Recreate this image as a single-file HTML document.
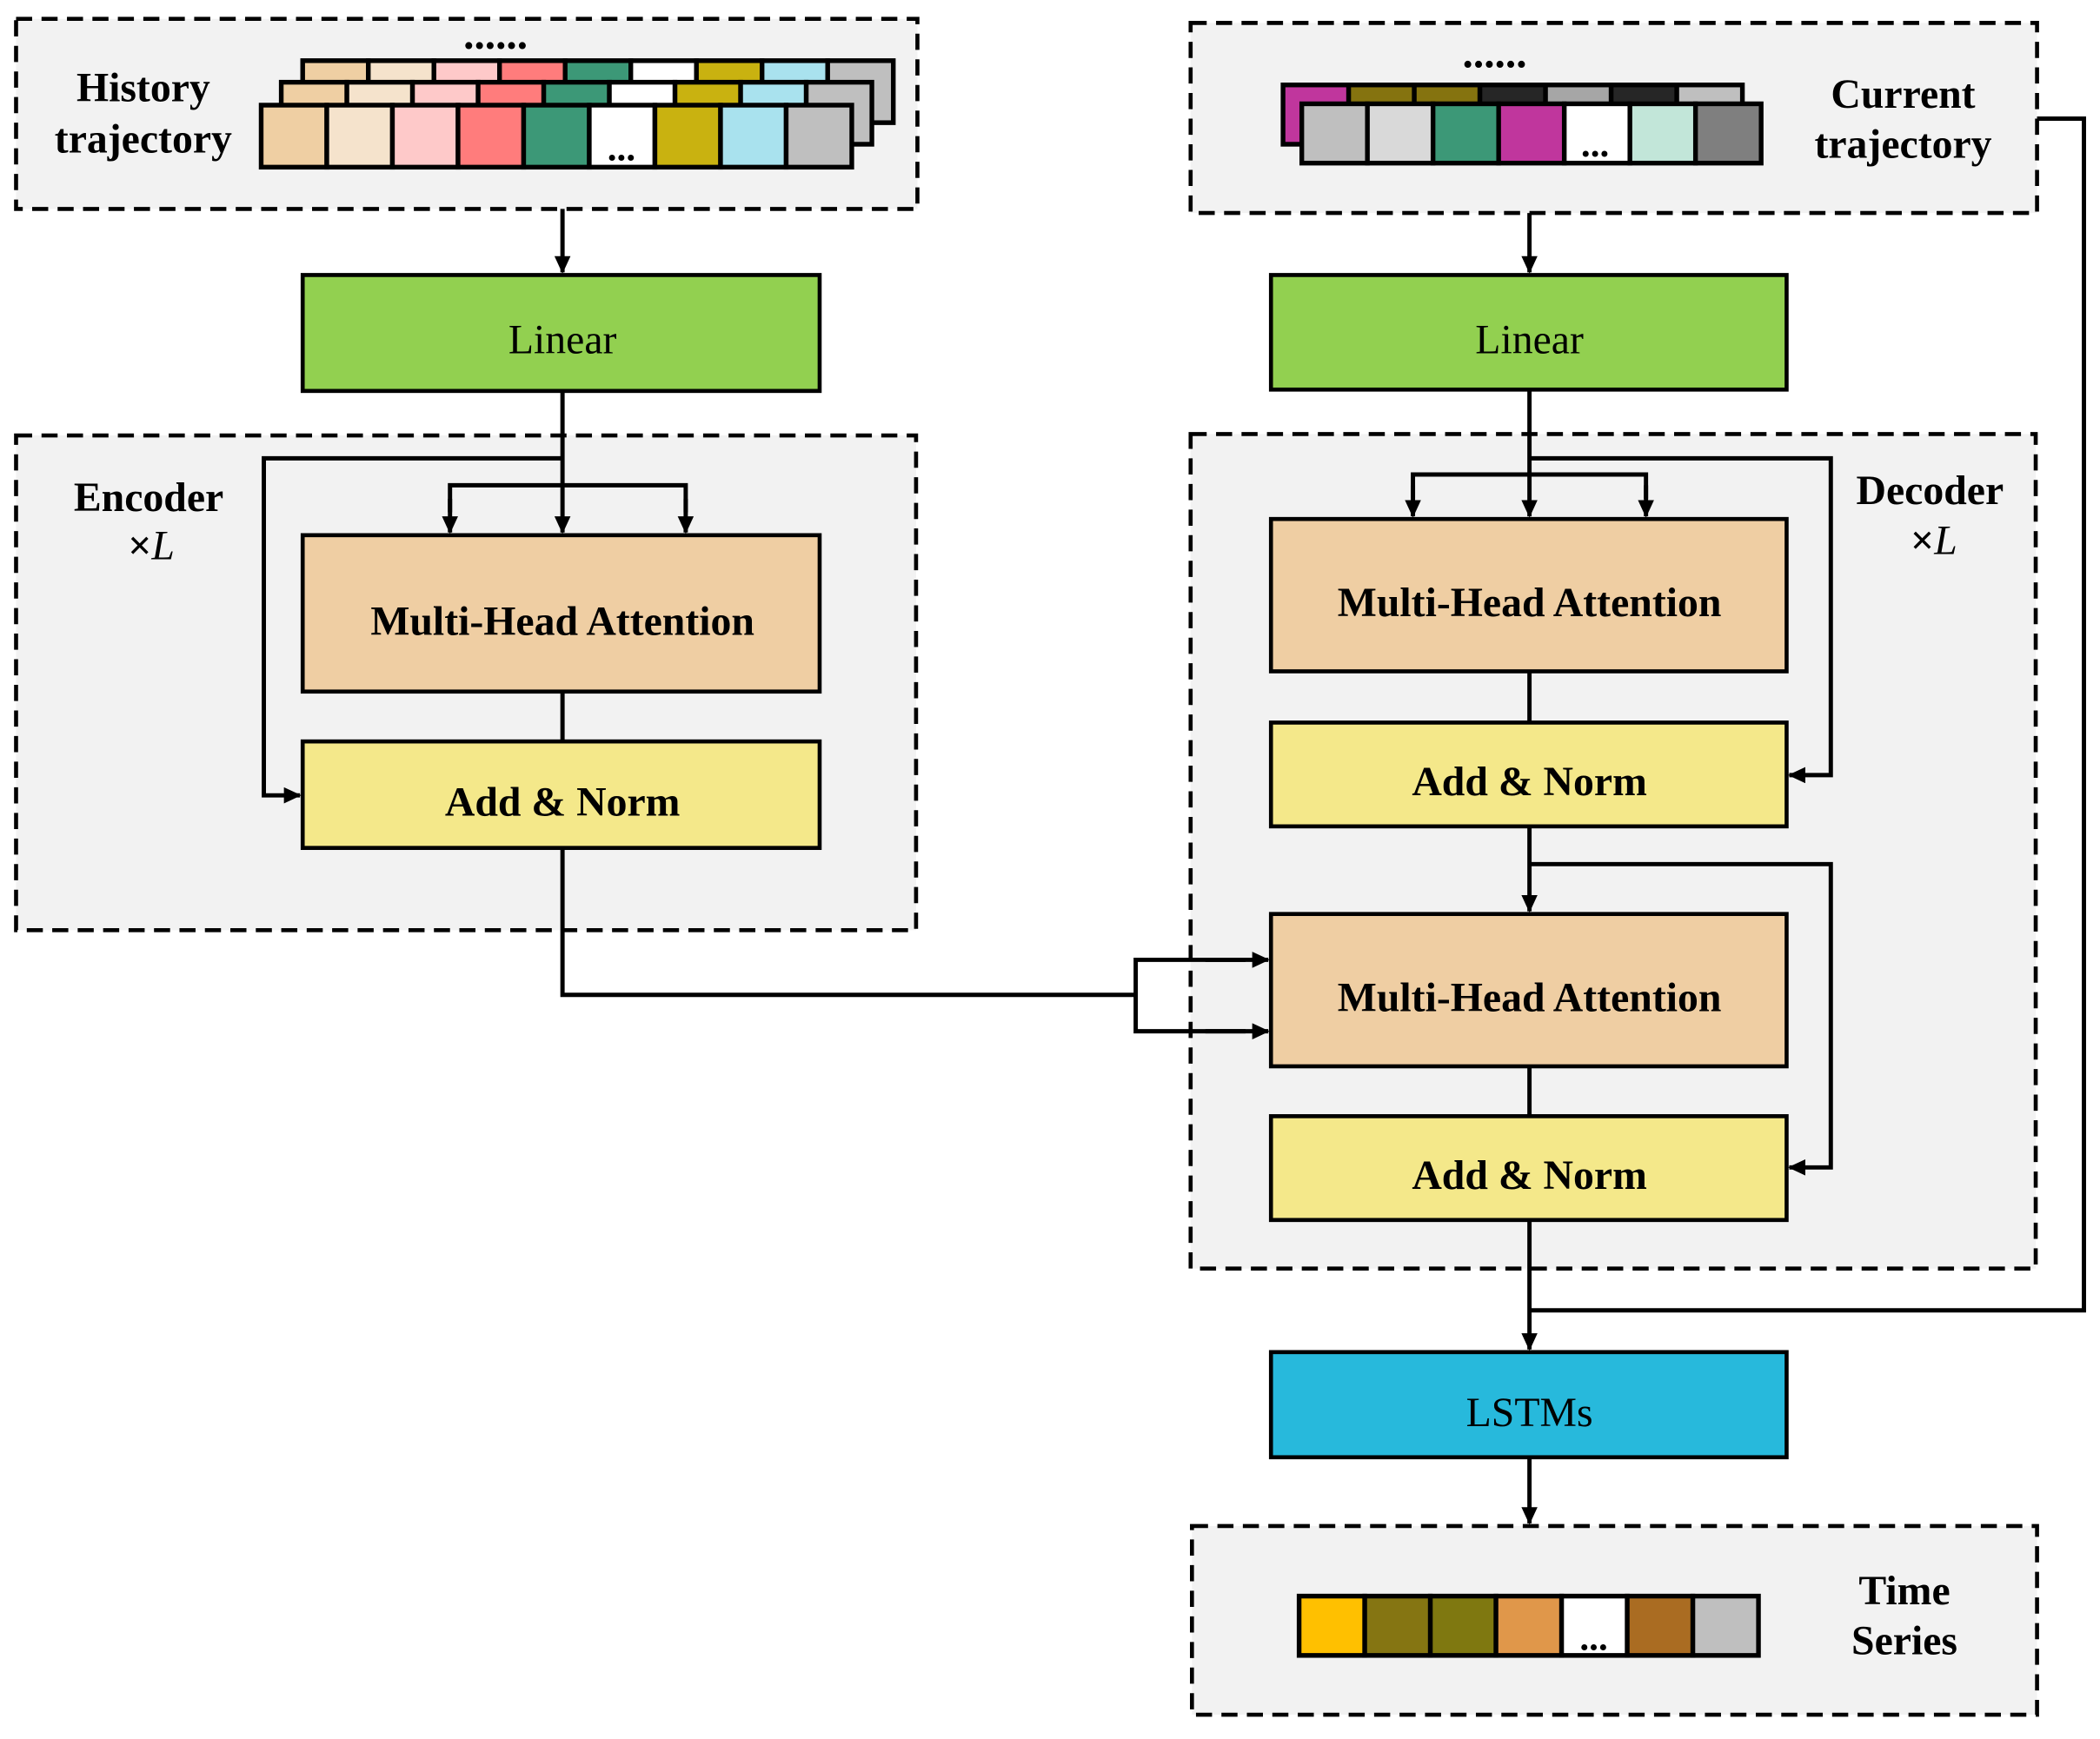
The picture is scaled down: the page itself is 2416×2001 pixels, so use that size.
<!DOCTYPE html>
<html><head><meta charset="utf-8"><style>
html,body{margin:0;padding:0;background:#fff;}
svg{display:block;}
text{font-family:"Liberation Serif",serif;}
.b{font-weight:bold;}
</style></head><body>
<svg width="2416" height="2001" viewBox="0 0 1568 1290" preserveAspectRatio="none" xmlns="http://www.w3.org/2000/svg">
<defs>
<marker id="a" markerWidth="14" markerHeight="14" refX="12" refY="6" orient="auto" markerUnits="userSpaceOnUse">
<path d="M0,0 L13,6 L0,12 Z" fill="#000"/>
</marker>
</defs>
<g fill="#f2f2f2" stroke="#000" stroke-width="3" stroke-dasharray="12,7">
<rect x="12" y="14" width="673" height="141"/>
<rect x="889" y="17" width="632" height="141"/>
<rect x="12" y="323" width="672" height="367"/>
<rect x="889" y="322" width="631" height="619"/>
<rect x="890" y="1132" width="631" height="140"/>
</g>
<g stroke="#000" stroke-width="3.5">
<g transform="translate(226,45)">
<rect x="0" y="0" width="49" height="46" fill="#efcfa3"/><rect x="49" y="0" width="49" height="46" fill="#f5e3cc"/><rect x="98" y="0" width="49" height="46" fill="#fec9c9"/><rect x="147" y="0" width="49" height="46" fill="#ff7c7c"/><rect x="196" y="0" width="49" height="46" fill="#3c9877"/><rect x="245" y="0" width="49" height="46" fill="#fff"/><rect x="294" y="0" width="49" height="46" fill="#c9b210"/><rect x="343" y="0" width="49" height="46" fill="#a9e2ee"/><rect x="392" y="0" width="49" height="46" fill="#bfbfbf"/>
</g>
<g transform="translate(210,61)">
<rect x="0" y="0" width="49" height="46" fill="#efcfa3"/><rect x="49" y="0" width="49" height="46" fill="#f5e3cc"/><rect x="98" y="0" width="49" height="46" fill="#fec9c9"/><rect x="147" y="0" width="49" height="46" fill="#ff7c7c"/><rect x="196" y="0" width="49" height="46" fill="#3c9877"/><rect x="245" y="0" width="49" height="46" fill="#fff"/><rect x="294" y="0" width="49" height="46" fill="#c9b210"/><rect x="343" y="0" width="49" height="46" fill="#a9e2ee"/><rect x="392" y="0" width="49" height="46" fill="#bfbfbf"/>
</g>
<g transform="translate(195,78)">
<rect x="0" y="0" width="49" height="46" fill="#efcfa3"/><rect x="49" y="0" width="49" height="46" fill="#f5e3cc"/><rect x="98" y="0" width="49" height="46" fill="#fec9c9"/><rect x="147" y="0" width="49" height="46" fill="#ff7c7c"/><rect x="196" y="0" width="49" height="46" fill="#3c9877"/><rect x="245" y="0" width="49" height="46" fill="#fff"/><rect x="294" y="0" width="49" height="46" fill="#c9b210"/><rect x="343" y="0" width="49" height="46" fill="#a9e2ee"/><rect x="392" y="0" width="49" height="46" fill="#bfbfbf"/>
</g>
<g transform="translate(958,63)">
<rect x="0" y="0" width="49" height="44" fill="#c0369d"/><rect x="49" y="0" width="49" height="44" fill="#85730f"/><rect x="98" y="0" width="49" height="44" fill="#85730f"/><rect x="147" y="0" width="49" height="44" fill="#262626"/><rect x="196" y="0" width="49" height="44" fill="#a6a6a6"/><rect x="245" y="0" width="49" height="44" fill="#262626"/><rect x="294" y="0" width="49" height="44" fill="#bfbfbf"/>
</g>
<g transform="translate(972,77)">
<rect x="0" y="0" width="49" height="44" fill="#bfbfbf"/><rect x="49" y="0" width="49" height="44" fill="#d9d9d9"/><rect x="98" y="0" width="49" height="44" fill="#3c9877"/><rect x="147" y="0" width="49" height="44" fill="#c0369d"/><rect x="196" y="0" width="49" height="44" fill="#fff"/><rect x="245" y="0" width="49" height="44" fill="#c2e6d9"/><rect x="294" y="0" width="49" height="44" fill="#7f7f7f"/>
</g>
<g transform="translate(970,1184)">
<rect x="0" y="0" width="49" height="44" fill="#ffc000"/><rect x="49" y="0" width="49" height="44" fill="#857512"/><rect x="98" y="0" width="49" height="44" fill="#7f7810"/><rect x="147" y="0" width="49" height="44" fill="#e0974a"/><rect x="196" y="0" width="49" height="44" fill="#fff"/><rect x="245" y="0" width="49" height="44" fill="#aa6c22"/><rect x="294" y="0" width="49" height="44" fill="#bfbfbf"/>
</g>
</g>
<g class="b" font-size="28" text-anchor="middle">
<text x="464" y="119">...</text>
<text x="1191" y="116">...</text>
<text x="1190" y="1224">...</text>
<text x="370" y="36" font-size="32">......</text>
<text x="1116" y="50" font-size="32">......</text>
</g>
<g class="b" font-size="31" text-anchor="middle">
<text x="107" y="75">History</text>
<text x="107" y="113">trajectory</text>
<text x="1421" y="80">Current</text>
<text x="1421" y="117">trajectory</text>
<text x="111" y="379">Encoder</text>
<text x="1441" y="374">Decoder</text>
<text x="1422" y="1190">Time</text>
<text x="1422" y="1227">Series</text>
<text x="113" y="415">×<tspan font-style="italic" font-weight="normal">L</tspan></text>
<text x="1444" y="411">×<tspan font-style="italic" font-weight="normal">L</tspan></text>
</g>
<g stroke="#000" stroke-width="3">
<rect x="226" y="204" width="386" height="86" fill="#92d050"/>
<rect x="949" y="204" width="385" height="85" fill="#92d050"/>
<rect x="226" y="397" width="386" height="116" fill="#efcea3"/>
<rect x="226" y="550" width="386" height="79" fill="#f4e88a"/>
<rect x="949" y="385" width="385" height="113" fill="#efcea3"/>
<rect x="949" y="536" width="385" height="77" fill="#f4e88a"/>
<rect x="949" y="678" width="385" height="113" fill="#efcea3"/>
<rect x="949" y="828" width="385" height="77" fill="#f4e88a"/>
<rect x="949" y="1003" width="385" height="78" fill="#27b9dc"/>
</g>
<g font-size="31" text-anchor="middle">
<text x="420" y="262">Linear</text>
<text x="1142" y="262">Linear</text>
<text x="1142" y="1058">LSTMs</text>
<g class="b">
<text x="420" y="471">Multi-Head Attention</text>
<text x="420" y="605">Add &amp; Norm</text>
<text x="1142" y="457">Multi-Head Attention</text>
<text x="1142" y="590">Add &amp; Norm</text>
<text x="1142" y="750">Multi-Head Attention</text>
<text x="1142" y="882">Add &amp; Norm</text>
</g>
</g>
<g fill="none" stroke="#000" stroke-width="3.2">
<line x1="420" y1="155" x2="420" y2="202" marker-end="url(#a)"/>
<line x1="1142" y1="158" x2="1142" y2="202" marker-end="url(#a)"/>
<line x1="420" y1="290" x2="420" y2="395" marker-end="url(#a)"/>
<polyline points="336,380 336,360 512,360 512,380"/>
<line x1="336" y1="370" x2="336" y2="395" marker-end="url(#a)"/>
<line x1="512" y1="370" x2="512" y2="395" marker-end="url(#a)"/>
<polyline points="420,340 197,340 197,590 224,590" marker-end="url(#a)"/>
<line x1="420" y1="513" x2="420" y2="550"/>
<polyline points="420,629 420,738 848,738"/>
<polyline points="930,712 848,712 848,765 930,765"/>
<line x1="900" y1="712" x2="947" y2="712" marker-end="url(#a)"/>
<line x1="900" y1="765" x2="947" y2="765" marker-end="url(#a)"/>
<line x1="1142" y1="289" x2="1142" y2="383" marker-end="url(#a)"/>
<polyline points="1055,370 1055,352 1229,352 1229,370"/>
<line x1="1055" y1="360" x2="1055" y2="383" marker-end="url(#a)"/>
<line x1="1229" y1="360" x2="1229" y2="383" marker-end="url(#a)"/>
<polyline points="1142,340 1367,340 1367,575 1336,575" marker-end="url(#a)"/>
<line x1="1142" y1="498" x2="1142" y2="536"/>
<line x1="1142" y1="613" x2="1142" y2="676" marker-end="url(#a)"/>
<polyline points="1142,641 1367,641 1367,866 1336,866" marker-end="url(#a)"/>
<line x1="1142" y1="791" x2="1142" y2="828"/>
<line x1="1142" y1="905" x2="1142" y2="1001" marker-end="url(#a)"/>
<polyline points="1521,88 1556,88 1556,972 1142,972"/>
<line x1="1142" y1="1081" x2="1142" y2="1130" marker-end="url(#a)"/>
</g>
</svg>
</body></html>
